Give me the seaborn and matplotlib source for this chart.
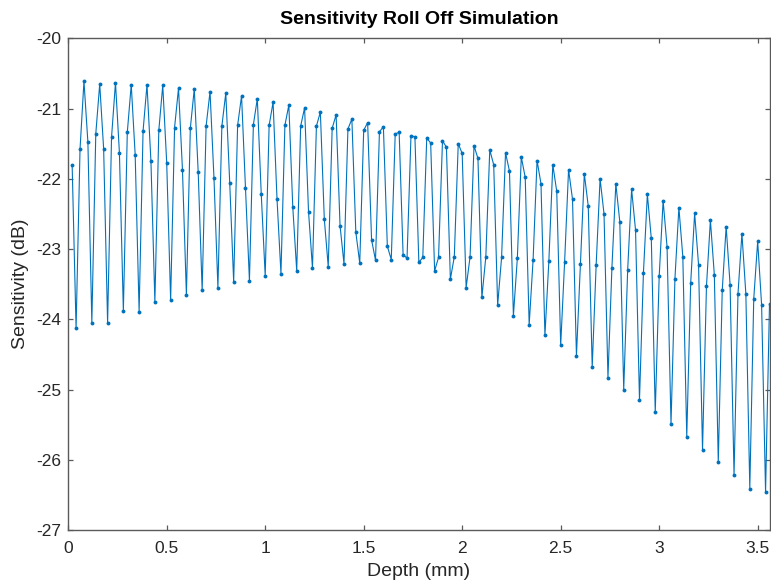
import matplotlib
matplotlib.use("Agg")
import matplotlib.pyplot as plt
import seaborn as sns
import pandas as pd

# ---- data ----
depth_mm = [
    0.02, 0.04, 0.06, 0.08, 0.10, 0.12, 0.14, 0.16, 0.18, 0.20,
    0.22, 0.24, 0.26, 0.28, 0.30, 0.32, 0.34, 0.36, 0.38, 0.40,
    0.42, 0.44, 0.46, 0.48, 0.50, 0.52, 0.54, 0.56, 0.58, 0.60,
    0.62, 0.64, 0.66, 0.68, 0.70, 0.72, 0.74, 0.76, 0.78, 0.80,
    0.82, 0.84, 0.86, 0.88, 0.90, 0.92, 0.94, 0.96, 0.98, 1.00,
    1.02, 1.04, 1.06, 1.08, 1.10, 1.12, 1.14, 1.16, 1.18, 1.20,
    1.22, 1.24, 1.26, 1.28, 1.30, 1.32, 1.34, 1.36, 1.38, 1.40,
    1.42, 1.44, 1.46, 1.48, 1.50, 1.52, 1.54, 1.56, 1.58, 1.60,
    1.62, 1.64, 1.66, 1.68, 1.70, 1.72, 1.74, 1.76, 1.78, 1.80,
    1.82, 1.84, 1.86, 1.88, 1.90, 1.92, 1.94, 1.96, 1.98, 2.00,
    2.02, 2.04, 2.06, 2.08, 2.10, 2.12, 2.14, 2.16, 2.18, 2.20,
    2.22, 2.24, 2.26, 2.28, 2.30, 2.32, 2.34, 2.36, 2.38, 2.40,
    2.42, 2.44, 2.46, 2.48, 2.50, 2.52, 2.54, 2.56, 2.58, 2.60,
    2.62, 2.64, 2.66, 2.68, 2.70, 2.72, 2.74, 2.76, 2.78, 2.80,
    2.82, 2.84, 2.86, 2.88, 2.90, 2.92, 2.94, 2.96, 2.98, 3.00,
    3.02, 3.04, 3.06, 3.08, 3.10, 3.12, 3.14, 3.16, 3.18, 3.20,
    3.22, 3.24, 3.26, 3.28, 3.30, 3.32, 3.34, 3.36, 3.38, 3.40,
    3.42, 3.44, 3.46, 3.48, 3.50, 3.52, 3.54, 3.56,
]

sensitivity_db = [
    -21.80, -24.13, -21.58, -20.61, -21.48, -24.05, -21.36, -20.65, -21.58, -24.05,
    -21.41, -20.63, -21.63, -23.88, -21.34, -20.66, -21.66, -23.89, -21.32, -20.66,
    -21.75, -23.75, -21.31, -20.67, -21.77, -23.73, -21.27, -20.71, -21.87, -23.65,
    -21.28, -20.72, -21.91, -23.59, -21.25, -20.76, -21.99, -23.55, -21.25, -20.78,
    -22.06, -23.47, -21.24, -20.82, -22.13, -23.45, -21.23, -20.86, -22.22, -23.38,
    -21.24, -20.91, -22.29, -23.35, -21.24, -20.95, -22.40, -23.31, -21.25, -20.99,
    -22.47, -23.27, -21.25, -21.05, -22.57, -23.25, -21.28, -21.09, -22.67, -23.21,
    -21.29, -21.15, -22.76, -23.20, -21.31, -21.20, -22.87, -23.16, -21.33, -21.26,
    -22.96, -23.15, -21.36, -21.34, -23.08, -23.13, -21.39, -21.40, -23.19, -23.12,
    -21.42, -21.49, -23.31, -23.12, -21.46, -21.55, -23.43, -23.11, -21.50, -21.64,
    -23.55, -23.11, -21.53, -21.71, -23.69, -23.11, -21.59, -21.80, -23.80, -23.12,
    -21.63, -21.89, -23.95, -23.13, -21.69, -21.98, -24.08, -23.15, -21.74, -22.07,
    -24.23, -23.17, -21.80, -22.18, -24.37, -23.18, -21.87, -22.29, -24.52, -23.21,
    -21.93, -22.39, -24.68, -23.23, -22.00, -22.50, -24.83, -23.27, -22.07, -22.61,
    -25.00, -23.30, -22.15, -22.73, -25.15, -23.34, -22.22, -22.85, -25.32, -23.39,
    -22.31, -22.97, -25.49, -23.42, -22.41, -23.11, -25.67, -23.48, -22.49, -23.23,
    -25.86, -23.53, -22.59, -23.37, -26.03, -23.59, -22.68, -23.51, -26.22, -23.64,
    -22.78, -23.64, -26.41, -23.71, -22.89, -23.80, -26.46, -23.78,
]

x_ticks = [0, 0.5, 1, 1.5, 2, 2.5, 3, 3.5]
x_tick_labels = ["0", "0.5", "1", "1.5", "2", "2.5", "3", "3.5"]
y_ticks = [-27, -26, -25, -24, -23, -22, -21, -20]
y_tick_labels = ["-27", "-26", "-25", "-24", "-23", "-22", "-21", "-20"]

title_text = "Sensitivity Roll Off Simulation"
x_label = "Depth (mm)"
y_label = "Sensitivity (dB)"

# ---- styling ----
sns.set_style("white")
plt.rcParams["font.family"] = ["Liberation Sans", "DejaVu Sans"]
plt.rcParams["axes.unicode_minus"] = False

axis_grey = "#262626"
line_blue = "#0072BD"

fig = plt.figure(figsize=(7.71, 5.85), dpi=100)
ax = fig.add_axes([68.2 / 771, 1 - 530 / 585, (769.5 - 68.2) / 771, (530 - 38.3) / 585])

df = pd.DataFrame({"depth": depth_mm, "sens": sensitivity_db})
sns.lineplot(data=df, x="depth", y="sens", ax=ax, color=line_blue,
             linewidth=0.8, marker="o", markersize=2.8, markeredgewidth=0,
             estimator=None, sort=False)

ax.set_xlim(0, 3.56)
ax.set_ylim(-27, -20)
ax.set_xticks(x_ticks)
ax.set_xticklabels(x_tick_labels)
ax.set_yticks(y_ticks)
ax.set_yticklabels(y_tick_labels)

for side in ["left", "right", "top", "bottom"]:
    ax.spines[side].set_visible(True)
    ax.spines[side].set_color("#5a5a5a")
    ax.spines[side].set_linewidth(1.0)

ax.tick_params(axis="both", which="major", direction="in", length=3.6,
               width=0.9, color="#5a5a5a", labelsize=12.5, labelcolor=axis_grey,
               top=True, right=True, bottom=True, left=True)
ax.tick_params(axis="x", pad=8)
ax.tick_params(axis="y", pad=5)

ax.set_title(title_text, fontsize=14, fontweight="bold", color="black", pad=10)
ax.set_xlabel(x_label, fontsize=14, color=axis_grey, labelpad=5)
ax.set_ylabel(y_label, fontsize=14, color=axis_grey, labelpad=5)
ax.grid(False)

fig.savefig("out.png", dpi=100)
